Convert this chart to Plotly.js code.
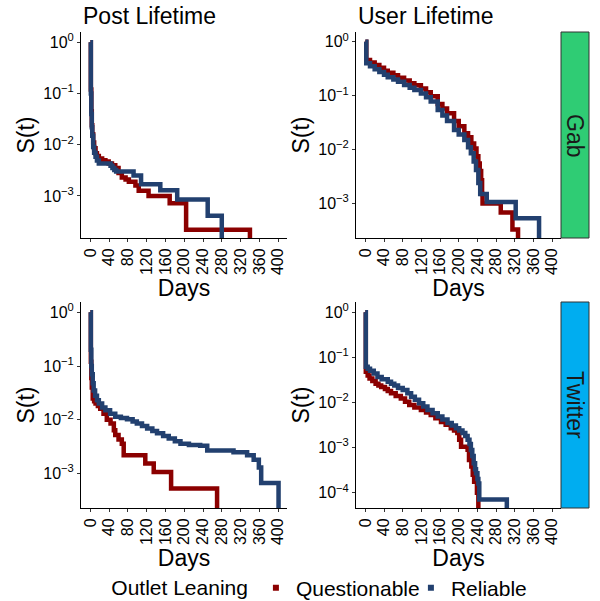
<!DOCTYPE html>
<html>
<head>
<meta charset="utf-8">
<script src="https://cdn.plot.ly/plotly-3.0.1.min.js"></script>
<style>
html,body{margin:0;padding:0;background:#ffffff;}
#chart{width:600px;height:601px;}
</style>
</head>
<body>
<div id="chart"></div>
<script>
// ---------------- DATA ----------------
const columnTitles = ['Post Lifetime', 'User Lifetime'];
const rowLabels = ['Gab', 'Twitter'];
const seriesNames = ['Questionable', 'Reliable'];
const legendTitle = 'Outlet Leaning';
const xTickVals = [0, 40, 80, 120, 160, 200, 240, 280, 320, 360, 400];
const yTickExponents = [0, -1, -2, -3, -4];

// Gab - Post Lifetime
const gabPostDaysQ = [0, 1, 2, 3, 4, 6, 8, 11, 14, 18, 25, 32, 39, 46, 53, 60, 67, 75, 82, 96, 103, 124, 169, 204, 340];
const gabPostSQ    = [1, 0.12, 0.045, 0.024, 0.016, 0.011, 0.0085, 0.0068, 0.006, 0.0054, 0.005, 0.0047, 0.0043, 0.004, 0.0035, 0.0028, 0.0023, 0.0021, 0.0019, 0.0016, 0.00126, 0.001, 0.00072, 0.00022, 0];
const gabPostDaysR = [0, 1, 2, 3, 4, 6, 8, 11, 14, 18, 43, 47, 51, 55, 92, 108, 149, 185, 250, 280];
const gabPostSR    = [1, 0.1, 0.04, 0.022, 0.015, 0.009, 0.007, 0.0058, 0.0049, 0.0043, 0.0039, 0.0035, 0.0032, 0.003, 0.0025, 0.0017, 0.0013, 0.00085, 0.00041, 0];

// Gab - User Lifetime
const gabUserDaysQ = [0, 2, 10, 20, 30, 40, 48, 60, 70, 83, 95, 105, 119, 130, 140, 155, 165, 175, 190, 200, 212, 220, 227, 233, 238, 242, 245, 248, 250, 251, 290, 315, 327];
const gabUserSQ    = [1, 0.46, 0.41, 0.37, 0.33, 0.29, 0.265, 0.24, 0.215, 0.19, 0.17, 0.155, 0.135, 0.115, 0.097, 0.07, 0.058, 0.047, 0.034, 0.027, 0.02, 0.017, 0.013, 0.0105, 0.0075, 0.0055, 0.004, 0.0027, 0.0015, 0.001, 0.00068, 0.00033, 0];
const gabUserDaysR = [0, 2, 10, 20, 30, 40, 48, 60, 70, 83, 95, 105, 119, 130, 140, 155, 165, 175, 190, 200, 212, 220, 226, 232, 237, 242, 246, 260, 322, 372];
const gabUserSR    = [1, 0.40, 0.35, 0.31, 0.275, 0.245, 0.22, 0.2, 0.18, 0.157, 0.14, 0.127, 0.11, 0.093, 0.078, 0.054, 0.043, 0.034, 0.023, 0.019, 0.015, 0.011, 0.0085, 0.006, 0.0042, 0.0024, 0.0015, 0.00107, 0.00053, 0];

// Twitter - Post Lifetime
const twPostDaysQ = [0, 1, 2, 3, 5, 8, 11, 16, 21, 28, 35, 43, 50, 53, 60, 67, 71, 117, 135, 172, 270];
const twPostSQ    = [1, 0.12, 0.06, 0.04, 0.025, 0.022, 0.02, 0.018, 0.016, 0.013, 0.01, 0.0085, 0.0064, 0.0052, 0.0043, 0.0036, 0.0022, 0.00154, 0.00107, 0.00053, 0];
const twPostDaysR = [0, 1, 2, 3, 5, 7, 10, 14, 18, 25, 32, 42, 53, 65, 78, 90, 99, 110, 121, 132, 142, 155, 167, 180, 192, 210, 234, 249, 305, 334, 348, 359, 364, 401];
const twPostSR    = [1, 0.2, 0.1, 0.07, 0.048, 0.035, 0.028, 0.023, 0.02, 0.017, 0.015, 0.013, 0.0114, 0.0108, 0.0102, 0.0093, 0.0085, 0.0077, 0.0069, 0.0062, 0.0056, 0.005, 0.0045, 0.004, 0.0036, 0.0034, 0.0033, 0.0027, 0.0025, 0.0022, 0.0018, 0.0013, 0.00067, 0];

// Twitter - User Lifetime
const twUserDaysQ = [0, 1, 5, 9, 15, 22, 28, 34, 42, 48, 55, 65, 76, 85, 94, 105, 119, 130, 140, 150, 162, 172, 183, 190, 197, 201, 205, 219, 222, 227, 230, 233, 239, 242];
const twUserSQ    = [1, 0.048, 0.04, 0.034, 0.03, 0.026, 0.024, 0.022, 0.02, 0.018, 0.016, 0.014, 0.0123, 0.0104, 0.0088, 0.0078, 0.0068, 0.006, 0.0053, 0.0045, 0.0037, 0.0032, 0.0027, 0.0024, 0.0021, 0.0015, 0.00105, 0.0009, 0.00053, 0.00038, 0.00025, 0.000175, 0.0001, 0];
const twUserDaysR = [0, 1, 5, 10, 18, 26, 35, 48, 55, 62, 70, 80, 90, 98, 106, 115, 124, 133, 144, 155, 165, 176, 185, 194, 201, 208, 214, 219, 223, 226, 229, 232, 235, 237, 240, 242, 244, 303];
const twUserSR    = [1, 0.062, 0.056, 0.051, 0.044, 0.037, 0.033, 0.029, 0.026, 0.024, 0.021, 0.019, 0.016, 0.0135, 0.0115, 0.0096, 0.0082, 0.0068, 0.0058, 0.0049, 0.0042, 0.0035, 0.0031, 0.0027, 0.0024, 0.0021, 0.0018, 0.0015, 0.0012, 0.00089, 0.00065, 0.00045, 0.00033, 0.00027, 0.0002, 0.00016, 0.000071, 0];

// ---------------- STYLE ----------------
const FONT = 'Liberation Sans, Arial, Helvetica, sans-serif';
const colorQ = '#8B0000';
const colorR = '#22406F';
const stripColors = ['#2FCC74', '#00ADF0'];
const W = 600, H = 601;

// panel pixel boxes
const colPx = [[81, 287], [356, 561]];
const rowPx = [[32, 238], [302, 508]];
const stripPx = [561, 589];
const yRanges = [[[-3.82, 0.20], [-3.64, 0.18]], [[-3.64, 0.19], [-4.34, 0.23]]];
const xRange = [-20, 419];

const panelData = [
  [[gabPostDaysQ, gabPostSQ, gabPostDaysR, gabPostSR], [gabUserDaysQ, gabUserSQ, gabUserDaysR, gabUserSR]],
  [[twPostDaysQ, twPostSQ, twPostDaysR, twPostSR], [twUserDaysQ, twUserSQ, twUserDaysR, twUserSR]]
];

// S = 0 is drawn to the panel floor (like -Inf on a log scale)
const floorZero = arr => arr.map(v => v === 0 ? 1e-9 : v);
const yTickVals = yTickExponents.map(e => Math.pow(10, e));
const yTickText = yTickExponents.map(e => '10<sup>' + (e < 0 ? '\u2212' + Math.abs(e) : e) + '</sup>');

const traces = [];
const layout = {
  width: W, height: H,
  margin: {l: 0, r: 0, t: 0, b: 0, pad: 0, autoexpand: false},
  paper_bgcolor: '#ffffff',
  plot_bgcolor: '#ffffff',
  font: {family: FONT, color: '#000000'},
  showlegend: true,
  legend: {
    orientation: 'h',
    x: 0.563, xanchor: 'center', y: 1 - 588 / H, yanchor: 'middle',
    font: {size: 21, family: FONT, color: '#000000'},
    title: {text: legendTitle, side: 'left', font: {size: 21, family: FONT, color: '#000000'}},
    bgcolor: 'rgba(0,0,0,0)', borderwidth: 0,
    entrywidthmode: 'pixels', entrywidth: 110
  },
  shapes: [],
  annotations: []
};

let idx = 0;
for (let r = 0; r < 2; r++) {
  for (let c = 0; c < 2; c++) {
    idx++;
    const xa = 'x' + (idx === 1 ? '' : idx);
    const ya = 'y' + (idx === 1 ? '' : idx);
    const xKey = 'xaxis' + (idx === 1 ? '' : idx);
    const yKey = 'yaxis' + (idx === 1 ? '' : idx);
    const [dq, sq, dr, sr] = panelData[r][c];
    traces.push({x: dq, y: floorZero(sq), xaxis: xa, yaxis: ya, type: 'scatter', mode: 'lines',
      line: {color: colorQ, width: 4.5, shape: 'hv'}, name: seriesNames[0], showlegend: false, hoverinfo: 'skip'});
    traces.push({x: dr, y: floorZero(sr), xaxis: xa, yaxis: ya, type: 'scatter', mode: 'lines',
      line: {color: colorR, width: 4.5, shape: 'hv'}, name: seriesNames[1], showlegend: false, hoverinfo: 'skip'});

    layout[xKey] = {
      domain: [colPx[c][0] / W, colPx[c][1] / W],
      anchor: ya,
      range: xRange,
      tickvals: xTickVals,
      ticktext: xTickVals.map(String),
      tickangle: -90,
      ticks: 'outside', ticklen: 3, tickwidth: 1, tickcolor: '#333333',
      tickfont: {size: 16, family: FONT, color: '#000000'},
      showline: true, linecolor: '#000000', linewidth: 1,
      showgrid: false, zeroline: false, automargin: false,
      title: {text: 'Days', font: {size: 23, family: FONT, color: '#000000'}, standoff: 0}
    };
    layout[yKey] = {
      domain: [1 - rowPx[r][1] / H, 1 - rowPx[r][0] / H],
      anchor: xa,
      type: 'log',
      range: yRanges[r][c],
      tickvals: yTickVals,
      ticktext: yTickText,
      ticks: 'outside', ticklen: 3, tickwidth: 1, tickcolor: '#333333',
      tickfont: {size: 16, family: FONT, color: '#000000'},
      showline: true, linecolor: '#000000', linewidth: 1,
      showgrid: false, zeroline: false, automargin: false,
      title: {text: 'S(t)', font: {size: 23, family: FONT, color: '#000000'}, standoff: 2}
    };
  }
  // strip on the right of each row
  layout.shapes.push({type: 'rect', xref: 'paper', yref: 'paper',
    x0: stripPx[0] / W, x1: stripPx[1] / W, y0: 1 - rowPx[r][1] / H, y1: 1 - rowPx[r][0] / H,
    fillcolor: stripColors[r], line: {color: '#333333', width: 1}, layer: 'above'});
  layout.annotations.push({text: rowLabels[r], xref: 'paper', yref: 'paper',
    x: (stripPx[0] + stripPx[1]) / 2 / W, y: 1 - (rowPx[r][0] + rowPx[r][1]) / 2 / H,
    xanchor: 'center', yanchor: 'middle', textangle: 90, showarrow: false,
    font: {size: 23, family: FONT, color: '#1a1a1a'}});
}
// column titles
for (let c = 0; c < 2; c++) {
  layout.annotations.push({text: columnTitles[c], xref: 'paper', yref: 'paper',
    x: colPx[c][0] / W, y: 1 - 16 / H, xanchor: 'left', yanchor: 'middle', showarrow: false,
    font: {size: 23, family: FONT, color: '#000000'}});
}
// legend keys
traces.push({x: [null], y: [null], xaxis: 'x', yaxis: 'y', type: 'scatter', mode: 'markers',
  marker: {symbol: 'square', size: 6, color: colorQ}, name: seriesNames[0], showlegend: true, hoverinfo: 'skip'});
traces.push({x: [null], y: [null], xaxis: 'x', yaxis: 'y', type: 'scatter', mode: 'markers',
  marker: {symbol: 'square', size: 6, color: colorR}, name: seriesNames[1], showlegend: true, hoverinfo: 'skip'});

Plotly.newPlot('chart', traces, layout, {staticPlot: true, displayModeBar: false});
</script>
</body>
</html>
